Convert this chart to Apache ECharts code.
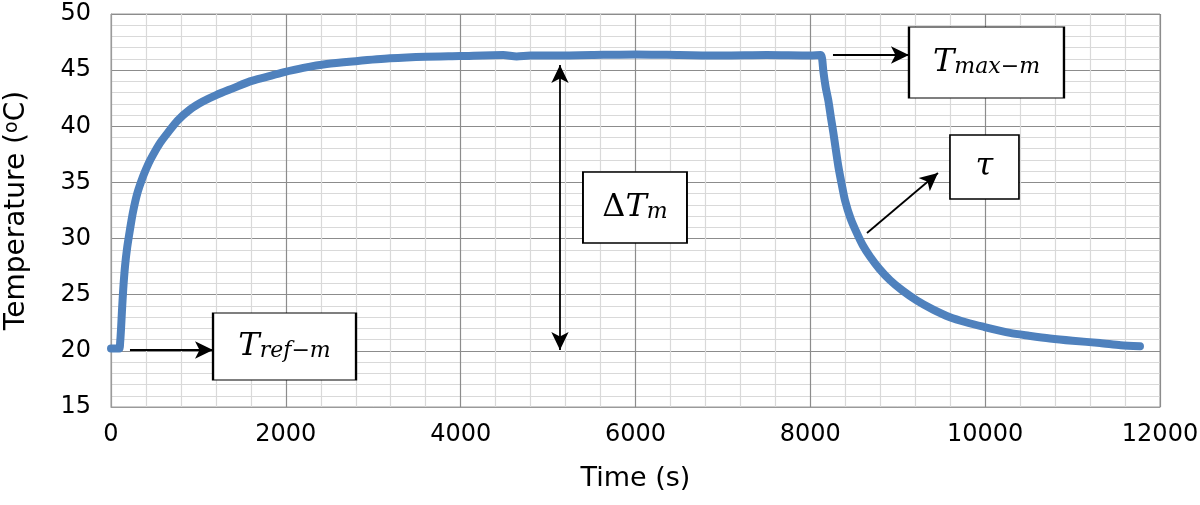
<!DOCTYPE html>
<html>
<head>
<meta charset="utf-8">
<script src="https://cdn.jsdelivr.net/npm/echarts@6/dist/echarts.min.js"></script>
<style>html,body{margin:0;padding:0;background:#fff}#c{width:1200px;height:505px}</style>
</head>
<body>
<div id="c"></div>
<script>
// ---- data ----
const timeS = [0, 60, 95, 105, 115, 125, 140, 160, 185, 217, 250, 300, 370, 430, 484, 560, 637, 760, 904, 1050, 1209, 1400, 1590, 1780, 1970, 2200, 2467, 2800, 3191, 3600, 3992, 4487, 4640, 4800, 5022, 5500, 6000, 6500, 7000, 7500, 8000, 8120, 8135, 8149, 8175, 8206, 8235, 8264, 8290, 8321, 8360, 8397, 8460, 8531, 8600, 8682, 8790, 8911, 9050, 9216, 9400, 9597, 9780, 9979, 10284, 10500, 10741, 11000, 11313, 11550, 11771];
const tempC = [20.2, 20.2, 20.2, 20.8, 22.0, 23.5, 25.5, 27.5, 29.2, 30.8, 32.3, 34.0, 35.6, 36.7, 37.5, 38.5, 39.3, 40.5, 41.5, 42.2, 42.8, 43.4, 44.0, 44.4, 44.8, 45.2, 45.55, 45.8, 46.05, 46.2, 46.26, 46.35, 46.22, 46.3, 46.3, 46.35, 46.4, 46.35, 46.3, 46.35, 46.3, 46.35, 46.0, 44.9, 43.5, 42.3, 40.8, 39.4, 38.0, 36.4, 34.8, 33.4, 31.8, 30.5, 29.4, 28.4, 27.3, 26.3, 25.4, 24.5, 23.7, 23.0, 22.55, 22.15, 21.6, 21.35, 21.1, 20.9, 20.7, 20.5, 20.4];
const xTicks = [0, 2000, 4000, 6000, 8000, 10000, 12000];
const yTicks = [15, 20, 25, 30, 35, 40, 45, 50];

const seriesData = timeS.map((t, i) => [t, tempC[i]]);

const mathFont = 'DejaVu Serif';
const rich = {
  T: {fontFamily: mathFont, fontStyle: 'italic', fontSize: 32, lineHeight: 32, padding: [0, 0, 8, 0], verticalAlign: 'top', color: '#000'},
  D: {fontFamily: mathFont, fontSize: 32, lineHeight: 32, padding: [0, 0, 8, 0], verticalAlign: 'top', color: '#000'},
  s: {fontFamily: mathFont, fontStyle: 'italic', fontSize: 22, lineHeight: 22, verticalAlign: 'bottom', color: '#000'},
  tau: {fontFamily: mathFont, fontStyle: 'italic', fontSize: 32, color: '#000'}
};

function box(coord, size, text) {
  return {coord: coord, symbol: 'rect', symbolSize: size, value: text,
    itemStyle: {color: '#fff', borderColor: '#000', borderWidth: 1.6},
    label: {show: true, position: 'inside', formatter: text, rich: rich}};
}
function arrow(a, b, sa, sb) {
  return [{coord: a, symbol: sa}, {coord: b, symbol: sb}];
}

const option = {
  animation: false,
  backgroundColor: '#fff',
  grid: {left: 111, right: 40, top: 14, bottom: 98, show: true, borderColor: '#9a9a9a', borderWidth: 1,
    containLabel: false, outerBoundsMode: 'none'},
  xAxis: {
    type: 'value', min: xTicks[0], max: xTicks[xTicks.length - 1], interval: 2000,
    name: 'Time (s)', nameLocation: 'middle', nameGap: 58,
    nameTextStyle: {fontFamily: 'DejaVu Sans', fontSize: 27, color: '#000'},
    axisLine: {show: true, lineStyle: {color: '#9a9a9a'}},
    axisTick: {show: false},
    axisLabel: {fontFamily: 'DejaVu Sans', fontSize: 24, color: '#000', margin: 16, formatter: v => String(v)},
    splitLine: {show: true, lineStyle: {color: '#8c8c8c', width: 1.2}},
    minorTick: {show: false, splitNumber: 5},
    minorSplitLine: {show: true, lineStyle: {color: '#d9d9d9', width: 1.2}}
  },
  yAxis: {
    type: 'value', min: yTicks[0], max: yTicks[yTicks.length - 1], interval: 5,
    name: 'Temperature ({sup|o}C)', nameLocation: 'middle', nameGap: 80,
    nameTextStyle: {fontFamily: 'DejaVu Sans', fontSize: 28, color: '#000',
      rich: {sup: {fontFamily: 'DejaVu Sans', fontSize: 19, verticalAlign: 'top', lineHeight: 28, color: '#000'}}},
    axisLine: {show: true, lineStyle: {color: '#9a9a9a'}},
    axisTick: {show: false},
    axisLabel: {fontFamily: 'DejaVu Sans', fontSize: 24, color: '#000', margin: 20, formatter: v => String(v)},
    splitLine: {show: true, lineStyle: {color: '#8c8c8c', width: 1.2}},
    minorTick: {show: false, splitNumber: 5},
    minorSplitLine: {show: true, lineStyle: {color: '#d9d9d9', width: 1.2}}
  },
  series: [{
    type: 'line',
    data: seriesData,
    smooth: 0.25,
    showSymbol: false,
    lineStyle: {color: '#4f81bd', width: 8, cap: 'round', join: 'round'},
    itemStyle: {color: '#4f81bd'},
    silent: true,
    markLine: {
      silent: true,
      symbolSize: [13, 18],
      label: {show: false},
      lineStyle: {color: '#000', width: 1.8, type: 'solid'},
      emphasis: {disabled: true},
      data: [
        arrow([217, 20.08], [1167, 20.08], 'none', 'arrow'),
        arrow([5136, 20.08], [5136, 45.45], 'arrow', 'arrow'),
        arrow([8259, 46.35], [9128, 46.35], 'none', 'arrow'),
        arrow([8648, 30.5], [9460, 35.84], 'none', 'arrow')
      ]
    },
    markPoint: {
      silent: true,
      data: [
        box([1985, 20.39], [143, 67], '{T|T}{s|ref−m}'),
        box([5994, 32.77], [104, 71], '{D|Δ}{T|T}{s|m}'),
        box([10015, 45.68], [155, 71], '{T|T}{s|max−m}'),
        box([9992, 36.37], [69, 64], '{tau|τ}')
      ]
    }
  }]
};

const chart = echarts.init(document.getElementById('c'), null, {renderer: 'canvas'});
chart.setOption(option);
</script>
</body>
</html>
